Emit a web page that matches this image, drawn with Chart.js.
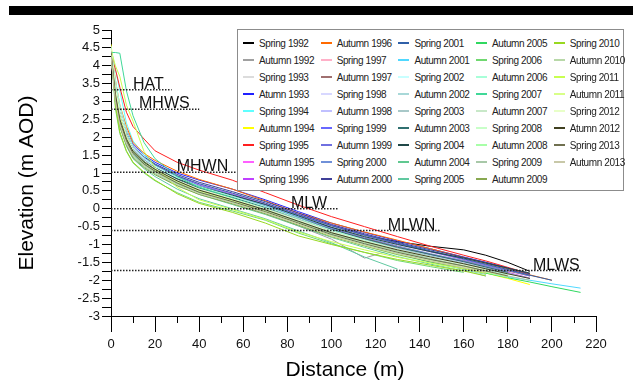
<!DOCTYPE html>
<html>
<head>
<meta charset="utf-8">
<script src="https://cdn.jsdelivr.net/npm/chart.js@4"></script>
<style>
  body { margin: 0; background: #fff; }
  #wrap { position: relative; width: 633px; height: 387px; }
  #topbar { position: absolute; left: 9px; top: 6px; width: 624px; height: 9px; background: #000; }
  #legend {
    position: absolute; left: 237px; top: 29px; width: 385px; height: 160px;
    border: 1px solid #8c8c8c; background: #fff;
    font-family: "Liberation Sans", Arial, sans-serif; font-size: 10px; color: #222;
  }
  .item { position: absolute; height: 12px; display: flex; align-items: center; white-space: nowrap; letter-spacing: -0.4px; }
  .item span.ln { display: inline-block; width: 11px; height: 1.6px; margin-right: 5px; }
</style>
</head>
<body>
<div id="wrap">
  <canvas id="profiles" width="633" height="387"></canvas>
  <div id="topbar"></div>
  <div id="legend"></div>
</div>
<script>
// distance along the profile (m), shared by every survey
var distance = [0, 2, 4, 7, 10, 15, 20, 30, 40, 55, 70, 85, 100, 115, 130, 145, 160, 170, 180, 190, 200, 213];

var seriesNames = [
    'Spring 1992', 'Autumn 1992', 'Spring 1993', 'Atumn 1993', 'Spring 1994', 'Autumn 1994', 'Spring 1995', 'Autumn 1995', 'Spring 1996',
    'Autumn 1996', 'Spring 1997', 'Autumn 1997', 'Spring 1998', 'Autumn 1998', 'Spring 1999', 'Autumn 1999', 'Spring 2000', 'Autumn 2000',
    'Spring 2001', 'Autumn 2001', 'Spring 2002', 'Autumn 2002', 'Spring 2003', 'Autumn 2003', 'Spring 2004', 'Autumn 2004', 'Spring 2005',
    'Autumn 2005', 'Spring 2006', 'Autumn 2006', 'Spring 2007', 'Autumn 2007', 'Spring 2008', 'Autumn 2008', 'Spring 2009', 'Autumn 2009',
    'Spring 2010', 'Autumn 2010', 'Spring 2011', 'Autumn 2011', 'Spring 2012', 'Atumn 2012', 'Spring 2013', 'Autumn 2013'
];

var seriesColors = [
    '#000000', '#a0a0a0', '#dcdcdc', '#2020ff', '#60ffff', '#ffff00', '#ff2020', '#ff60ff', '#c040ff',
    '#ff6a00', '#ffb0c8', '#a07070', '#d8d8ff', '#c0c0ff', '#6868ff', '#7070e0', '#7090d8', '#404098',
    '#3060a8', '#50d8ff', '#c8ffff', '#a8d8d8', '#a8c8c8', '#307070', '#204848', '#60c890', '#60c8a0',
    '#30d860', '#70d870', '#a8ffd8', '#40d898', '#c8e8c8', '#c8ffc8', '#a8ffa8', '#a8c8a8', '#88a850',
    '#98d820', '#b8d8a8', '#c8ff50', '#d8ff88', '#e8ffc8', '#404020', '#707050', '#c8c8a8'
];

// elevation (m AOD) at each distance, one row per survey
var elevations = [
    [4.45, 3.2, 2.5, 1.95, 1.6, 1.35, 1.15, 0.85, 0.6, 0.33, 0.05, -0.25, -0.52, -0.75, -0.92, -1.05, -1.15, -1.3, -1.5, -1.75],
    [4.3, 3.1, 2.4, 1.85, 1.5, 1.22, 1.02, 0.72, 0.45, 0.18, -0.12, -0.48, -0.85, -1.38, -1.1, -1.3, -1.45, -1.56, -1.68],
    [4.5, 3.4, 2.7, 2.1, 1.7, 1.4, 1.18, 0.88, 0.62, 0.36, 0.1, -0.2, -0.5, -0.76, -1.0, -1.22, -1.42, -1.55, -1.68, -1.8],
    [4.4, 3.5, 2.8, 2.2, 1.8, 1.5, 1.3, 1.0, 0.8, 0.55, 0.25, -0.08, -0.4, -0.66, -0.9, -1.12, -1.35, -1.5, -1.66, -1.85],
    [4.5, 3.9, 3.3, 2.4, 1.9, 1.5, 1.25, 0.92, 0.66, 0.38, 0.1, -0.22, -0.55, -0.82, -1.08, -1.3, -1.52, -1.68],
    [4.6, 3.5, 2.7, 2.05, 1.65, 1.35, 1.12, 0.8, 0.52, 0.25, -0.02, -0.35, -0.68, -0.95, -1.2, -1.42, -1.65, -1.8, -1.95, -2.12],
    [4.35, 3.9, 3.4, 2.7, 2.3, 1.95, 1.62, 1.3, 1.08, 0.8, 0.45, 0.1, -0.22, -0.5, -0.78, -1.05, -1.3, -1.46, -1.64, -1.82],
    [4.4, 3.3, 2.6, 2.05, 1.7, 1.42, 1.22, 0.92, 0.68, 0.42, 0.15, -0.15, -0.45, -0.72, -0.98, -1.2, -1.42, -1.58, -1.74],
    [4.3, 3.2, 2.5, 1.95, 1.6, 1.32, 1.12, 0.82, 0.58, 0.32, 0.06, -0.25, -0.56, -0.82, -1.06, -1.28, -1.48, -1.62, -1.78, -1.94],
    [4.5, 3.6, 2.9, 2.3, 1.85, 1.55, 1.35, 1.05, 0.82, 0.55, 0.22, -0.12, -0.4, -0.65, -0.88, -1.12, -1.36, -1.52, -1.68, -1.85, -2.0],
    [4.2, 3.1, 2.4, 1.9, 1.55, 1.3, 1.1, 0.8, 0.56, 0.3, 0.02, -0.3, -0.62, -0.88, -1.12, -1.33, -1.52, -1.66],
    [4.4, 3.3, 2.6, 2.0, 1.62, 1.35, 1.15, 0.85, 0.6, 0.34, 0.06, -0.26, -0.58, -0.83, -1.06, -1.27, -1.46, -1.6, -1.74, -1.88],
    [4.5, 3.4, 2.7, 2.1, 1.7, 1.38, 1.16, 0.84, 0.58, 0.32, 0.04, -0.28, -0.6, -0.86, -1.1, -1.32, -1.52, -1.66, -1.8],
    [4.45, 3.3, 2.6, 2.0, 1.62, 1.32, 1.12, 0.82, 0.57, 0.3, 0.02, -0.3, -0.62, -0.9, -1.16, -1.38, -1.58, -1.72],
    [4.4, 3.2, 2.5, 1.95, 1.58, 1.3, 1.1, 0.78, 0.52, 0.26, -0.02, -0.34, -0.68, -0.98, -1.25, -1.5, -1.7, -1.88],
    [4.35, 3.3, 2.6, 2.0, 1.65, 1.38, 1.2, 0.9, 0.66, 0.4, 0.12, -0.18, -0.48, -0.74, -0.98, -1.2, -1.42, -1.57, -1.72, -1.88],
    [4.5, 3.4, 2.7, 2.05, 1.66, 1.36, 1.16, 0.86, 0.62, 0.36, 0.08, -0.24, -0.55, -0.8, -1.04, -1.26, -1.46, -1.6, -1.75],
    [4.4, 3.5, 2.8, 2.15, 1.75, 1.45, 1.25, 0.96, 0.74, 0.48, 0.2, -0.12, -0.44, -0.7, -0.94, -1.15, -1.36, -1.5, -1.66, -1.82],
    [4.45, 3.4, 2.7, 2.1, 1.7, 1.42, 1.22, 0.92, 0.7, 0.44, 0.16, -0.16, -0.47, -0.73, -0.96, -1.18, -1.4, -1.55, -1.7, -1.86, -2.0],
    [4.3, 3.2, 2.5, 1.9, 1.52, 1.25, 1.05, 0.74, 0.5, 0.24, -0.04, -0.36, -0.7, -0.98, -1.24, -1.46, -1.66, -1.78, -1.9, -2.0, -2.1, -2.22],
    [4.55, 3.5, 2.8, 2.1, 1.7, 1.4, 1.18, 0.86, 0.6, 0.33, 0.05, -0.27, -0.6, -0.86, -1.1, -1.32, -1.52, -1.66],
    [4.4, 3.3, 2.55, 1.95, 1.58, 1.3, 1.1, 0.78, 0.54, 0.28, 0.0, -0.32, -0.64, -0.9, -1.14, -1.36, -1.56, -1.7, -1.82],
    [4.3, 3.2, 2.5, 1.92, 1.55, 1.28, 1.08, 0.78, 0.54, 0.28, 0.0, -0.3, -0.6, -0.86, -1.1, -1.32, -1.52, -1.66, -1.8, -1.95],
    [4.45, 3.35, 2.62, 2.02, 1.62, 1.33, 1.13, 0.82, 0.58, 0.32, 0.04, -0.27, -0.58, -0.84, -1.08, -1.28, -1.48, -1.63, -1.78],
    [4.5, 3.4, 2.65, 2.05, 1.64, 1.34, 1.14, 0.84, 0.62, 0.38, 0.12, -0.2, -0.52, -0.78, -1.0, -1.2, -1.38, -1.52, -1.66, -1.8],
    [4.35, 3.1, 2.35, 1.8, 1.45, 1.18, 0.98, 0.66, 0.4, 0.12, -0.16, -0.48, -0.8, -1.08, -1.34, -1.55, -1.72, -1.84],
    [4.4, 3.0, 2.3, 1.75, 1.4, 1.12, 0.9, 0.55, 0.28, 0.0, -0.28, -0.62, -0.95, -1.35, -1.69],
    [4.5, 3.2, 2.45, 1.88, 1.5, 1.22, 1.02, 0.7, 0.45, 0.18, -0.1, -0.42, -0.74, -1.02, -1.28, -1.5, -1.68, -1.8, -1.93, -2.05, -2.18, -2.34],
    [4.4, 2.8, 2.1, 1.6, 1.28, 1.0, 0.78, 0.45, 0.18, -0.06, -0.32, -0.68, -0.98, -1.22, -1.45, -1.62, -1.78],
    [4.45, 3.6, 2.9, 2.2, 1.75, 1.42, 1.2, 0.88, 0.62, 0.35, 0.06, -0.27, -0.6, -0.88, -1.14, -1.36, -1.56, -1.7, -1.84],
    [4.37, 4.37, 4.35, 3.3, 2.6, 1.85, 1.4, 0.9, 0.6, 0.3, 0.0, -0.34, -0.66, -0.92, -1.18, -1.4, -1.6, -1.74],
    [4.3, 3.2, 2.5, 1.9, 1.55, 1.27, 1.07, 0.76, 0.52, 0.26, -0.02, -0.34, -0.66, -0.92, -1.16, -1.38, -1.58, -1.72, -1.86],
    [4.4, 3.1, 2.4, 1.85, 1.48, 1.2, 1.0, 0.68, 0.42, 0.16, -0.12, -0.45, -0.78, -1.05, -1.3, -1.52, -1.72, -1.86],
    [4.5, 3.3, 2.55, 1.95, 1.56, 1.27, 1.06, 0.74, 0.48, 0.22, -0.06, -0.38, -0.7, -0.98, -1.22, -1.44, -1.64, -1.78, -1.92],
    [4.35, 3.2, 2.5, 1.92, 1.55, 1.26, 1.06, 0.76, 0.5, 0.24, -0.04, -0.36, -0.68, -0.94, -1.18, -1.4, -1.6, -1.74, -1.88, -2.0],
    [4.4, 3.0, 2.3, 1.78, 1.42, 1.15, 0.95, 0.64, 0.4, 0.14, -0.14, -0.46, -0.78, -1.04, -1.28, -1.48, -1.66, -1.8],
    [4.45, 2.9, 2.15, 1.62, 1.3, 1.02, 0.8, 0.42, 0.15, -0.1, -0.4, -0.76, -1.0, -1.22, -1.42, -1.58, -1.74, -1.88],
    [4.3, 3.1, 2.4, 1.85, 1.5, 1.22, 1.02, 0.72, 0.48, 0.22, -0.05, -0.37, -0.69, -0.95, -1.2, -1.42, -1.62, -1.76, -1.9],
    [4.45, 4.0, 3.7, 2.9, 2.45, 1.6, 1.15, 0.6, 0.25, -0.02, -0.3, -0.65, -0.92, -1.15, -1.36, -1.52, -1.68, -1.8],
    [4.4, 3.3, 2.6, 2.0, 1.6, 1.3, 1.08, 0.76, 0.5, 0.22, -0.08, -0.42, -0.76, -1.02, -1.26, -1.46, -1.64, -1.76, -1.88],
    [4.5, 3.4, 2.7, 2.05, 1.65, 1.35, 1.13, 0.8, 0.55, 0.28, 0.0, -0.32, -0.64, -0.9, -1.14, -1.36, -1.56, -1.7],
    [4.35, 3.2, 2.5, 1.95, 1.6, 1.3, 1.1, 0.78, 0.52, 0.25, -0.03, -0.35, -0.67, -0.92, -1.15, -1.35, -1.54, -1.68, -1.82, -1.95],
    [4.4, 3.1, 2.45, 1.9, 1.55, 1.25, 1.05, 0.72, 0.46, 0.2, -0.08, -0.4, -0.72, -0.98, -1.22, -1.42, -1.6, -1.74, -1.88],
    [4.3, 3.0, 2.35, 1.82, 1.48, 1.2, 1.0, 0.68, 0.43, 0.17, -0.11, -0.43, -0.75, -1.01, -1.25, -1.46, -1.65, -1.78]
];

// tidal levels
var levelNames = ['HAT', 'MHWS', 'MHWN', 'MLW', 'MLWN', 'MLWS'];
var levelElev = [3.33, 2.78, 1.02, 0.0, -0.61, -1.73];
var levelEnd = [27.5, 40, 57, 103, 149, 213.5];
var levelLabelAt = [10, 12.7, 29.8, 81.6, 125.5, 191.4];

var xMinorStep = 10;
var xTitle = 'Distance (m)';
var yTitle = 'Elevation (m AOD)';

var datasets = [];
seriesNames.forEach(function (name, i) {
    datasets.push({
        label: name,
        data: elevations[i].map(function (e, j) { return { x: distance[j], y: e }; }),
        borderColor: seriesColors[i],
        borderWidth: 1,
        pointRadius: 0,
        fill: false,
        tension: 0,
        order: seriesNames.length - i + 10
    });
});
levelNames.forEach(function (name, k) {
    datasets.push({
        label: name,
        data: [{ x: 0, y: levelElev[k] }, { x: levelEnd[k], y: levelElev[k] }],
        borderColor: '#222',
        borderWidth: 1.5,
        borderDash: [1.5, 1.5],
        pointRadius: 0,
        fill: false,
        order: 0
    });
});

const fontFam = '"Liberation Sans", Arial, sans-serif';

const extras = {
    id: 'extras',
    afterDatasetsDraw(chart) {
        const ctx = chart.ctx;
        const x = chart.scales.x, y = chart.scales.y;
        ctx.save();
        ctx.font = '16px ' + fontFam;
        ctx.fillStyle = '#111';
        ctx.textBaseline = 'alphabetic';
        levelNames.forEach(function (n, k) {
            ctx.fillText(n, x.getPixelForValue(levelLabelAt[k]), y.getPixelForValue(levelElev[k]) - 1);
        });
        // short ticks between the labelled ones
        ctx.strokeStyle = '#000';
        ctx.lineWidth = 1;
        const yb = chart.chartArea.bottom;
        for (let v = xMinorStep; v < x.max; v += 2 * xMinorStep) {
            const px = Math.round(x.getPixelForValue(v)) + 0.5;
            ctx.beginPath();
            ctx.moveTo(px, yb);
            ctx.lineTo(px, yb + 7);
            ctx.stroke();
        }
        // axis titles
        ctx.fillStyle = '#000';
        ctx.font = '21px ' + fontFam;
        ctx.textAlign = 'center';
        ctx.textBaseline = 'middle';
        ctx.fillText(xTitle, 345, 370);
        ctx.translate(27, 183);
        ctx.rotate(-Math.PI / 2);
        ctx.fillText(yTitle, 0, 0);
        ctx.restore();
    }
};

new Chart('profiles', {
    type: 'line',
    data: { datasets: datasets },
    plugins: [extras],
    options: {
        responsive: false,
        animation: false,
        layout: { padding: { top: 30, right: 37, left: 0, bottom: 0 } },
        plugins: { legend: { display: false }, tooltip: { enabled: false } },
        scales: {
            x: {
                type: 'linear', min: 0, max: 220,
                border: { color: '#000', width: 1 },
                grid: { drawOnChartArea: false, drawTicks: true, tickLength: 16, color: '#000' },
                ticks: { stepSize: 20, color: '#111', font: { family: fontFam, size: 13 }, padding: 5, maxRotation: 0, autoSkip: false },
                afterFit: function (s) { s.height = 71; }
            },
            y: {
                type: 'linear', min: -3, max: 5,
                border: { color: '#000', width: 1 },
                grid: { drawOnChartArea: false, drawTicks: true, tickLength: 9, color: '#000' },
                ticks: {
                    stepSize: 0.25, autoSkip: false, maxTicksLimit: 100, color: '#111', padding: 2,
                    font: { family: fontFam, size: 13 },
                    callback: function (v) { return Math.abs(v * 2 - Math.round(v * 2)) < 1e-6 ? String(v) : ''; }
                },
                afterFit: function (s) { s.width = 111; }
            }
        }
    }
});

// legend, five columns filled top to bottom
var legend = document.getElementById('legend');
seriesNames.forEach(function (name, i) {
    var col = Math.floor(i / 9), row = i % 9;
    var it = document.createElement('div');
    it.className = 'item';
    it.style.left = (5 + col * 77.7) + 'px';
    it.style.top = (7 + row * 17) + 'px';
    it.innerHTML = '<span class="ln" style="background:' + seriesColors[i] + '"></span>' + name;
    legend.appendChild(it);
});
</script>
</body>
</html>
